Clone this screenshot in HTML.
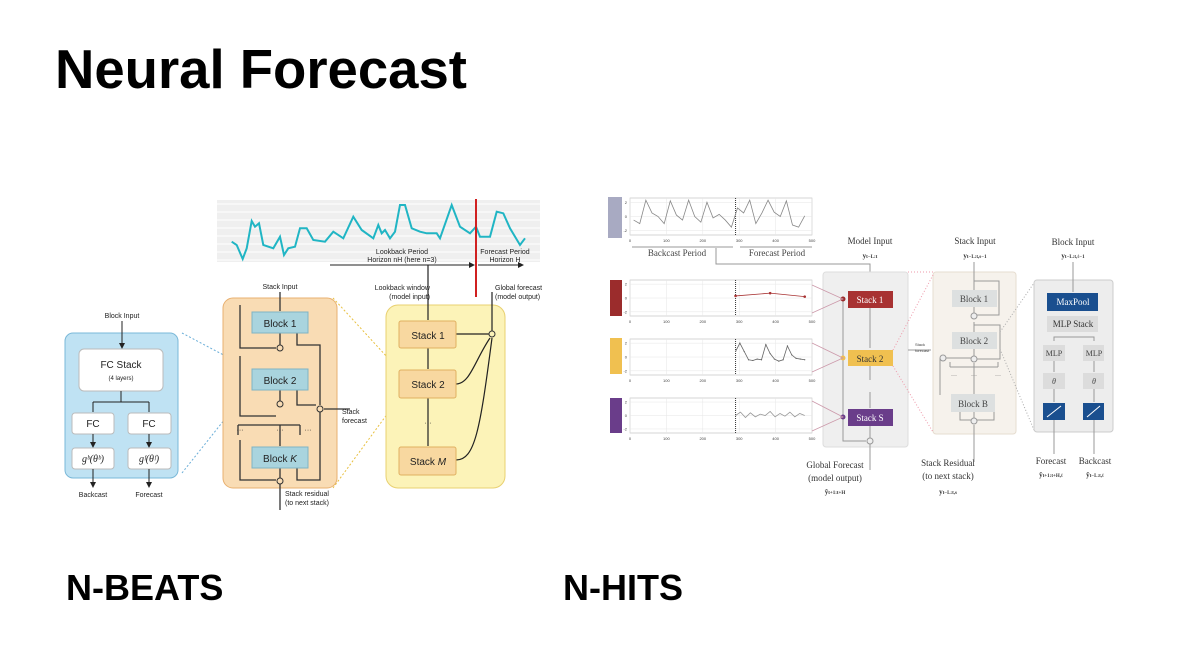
<!DOCTYPE html>
<html><head><meta charset="utf-8"><style>
html,body{margin:0;padding:0;background:#fff;}
svg{display:block;font-family:"Liberation Sans",sans-serif;}
.serif{font-family:"Liberation Serif",serif;}
</style></head><body>
<svg id="s" width="1202" height="646" viewBox="0 0 1202 646">
<defs>
<marker id="ar" markerWidth="6" markerHeight="6" refX="5" refY="3" orient="auto"><path d="M0,0 L6,3 L0,6z" fill="#222"/></marker>
</defs>
<text x="55" y="88" font-size="54.5" font-weight="bold" fill="#000">Neural Forecast</text>
<text x="66" y="600" font-size="36" font-weight="bold">N-BEATS</text>
<text x="563" y="600" font-size="36" font-weight="bold">N-HITS</text>

<!-- N-BEATS -->
<g font-size="7" fill="#222">
<rect x="217" y="200" width="323" height="62" fill="#efefef"/>
<g id="grid" stroke="#fff" stroke-width="1"></g>
<polyline id="teal" fill="none" stroke="#20b5c4" stroke-width="2"/>
<line x1="476" y1="199" x2="476" y2="297" stroke="#d02020" stroke-width="2"/>
<text x="402" y="254" text-anchor="middle">Lookback Period</text>
<text x="402" y="262" text-anchor="middle">Horizon nH (here n=3)</text>
<text x="505" y="254" text-anchor="middle">Forecast Period</text>
<text x="505" y="262" text-anchor="middle">Horizon H</text>
<line x1="330" y1="265" x2="474" y2="265" stroke="#222" marker-end="url(#ar)"/>
<line x1="478" y1="265" x2="523" y2="265" stroke="#222" marker-end="url(#ar)"/>

<rect x="65" y="333" width="113" height="145" rx="8" fill="#bfe2f3" stroke="#7ab8d8"/>
<text x="122" y="318" text-anchor="middle">Block Input</text>
<line x1="122" y1="321" x2="122" y2="348" stroke="#222" marker-end="url(#ar)"/>
<rect x="79" y="349" width="84" height="42" rx="5" fill="#fff" stroke="#bbb"/>
<text x="121" y="368" text-anchor="middle" font-size="10">FC Stack</text>
<text x="121" y="380" text-anchor="middle" font-size="6">(4 layers)</text>
<path d="M121,391 V402 M93,402 H149 M93,402 V412 M149,402 V412" stroke="#222" fill="none"/>
<rect x="72" y="413" width="42" height="21" rx="3" fill="#fff" stroke="#bbb"/>
<rect x="128" y="413" width="43" height="21" rx="3" fill="#fff" stroke="#bbb"/>
<text x="93" y="427" text-anchor="middle" font-size="10">FC</text>
<text x="149" y="427" text-anchor="middle" font-size="10">FC</text>
<line x1="93" y1="434" x2="93" y2="447" stroke="#222" marker-end="url(#ar)"/>
<line x1="149" y1="434" x2="149" y2="447" stroke="#222" marker-end="url(#ar)"/>
<rect x="72" y="448" width="42" height="21" rx="3" fill="#fff" stroke="#bbb"/>
<rect x="128" y="448" width="43" height="21" rx="3" fill="#fff" stroke="#bbb"/>
<text x="93" y="462" text-anchor="middle" font-size="10" class="serif" font-style="italic">g&#7495;(θ&#7495;)</text>
<text x="149" y="462" text-anchor="middle" font-size="10" class="serif" font-style="italic">g&#7584;(θ&#7584;)</text>
<line x1="93" y1="469" x2="93" y2="487" stroke="#222" marker-end="url(#ar)"/>
<line x1="149" y1="469" x2="149" y2="487" stroke="#222" marker-end="url(#ar)"/>
<text x="93" y="497" text-anchor="middle">Backcast</text>
<text x="149" y="497" text-anchor="middle">Forecast</text>
<line x1="182" y1="333" x2="252" y2="370" stroke="#6aaed8" stroke-dasharray="2,2"/>
<line x1="182" y1="473" x2="248" y2="390" stroke="#6aaed8" stroke-dasharray="2,2"/>

<rect x="223" y="298" width="114" height="190" rx="10" fill="#f9dcb4" stroke="#e8b070"/>
<text x="280" y="289" text-anchor="middle">Stack Input</text>
<path d="M280,292 V311 M240,305 V348 H276 M280,333 V346 M240,356 V416 H276 M280,390 V406 M238,425 H300 M238,425 V435 M300,425 V435 M280,425 V446 M240,440 V480 H276 M280,468 V510 M297,333 V345 H320 V405 M297,390 V405 H316 M297,468 V480 H320 V412 M324,409 H350" stroke="#333" fill="none" stroke-width="1.3"/>
<circle cx="280" cy="348" r="3" fill="#f9dcb4" stroke="#333"/>
<circle cx="280" cy="404" r="3" fill="#f9dcb4" stroke="#333"/>
<circle cx="320" cy="409" r="3" fill="#f9dcb4" stroke="#333"/>
<circle cx="280" cy="481" r="3" fill="#f9dcb4" stroke="#333"/>
<text x="240" y="432" text-anchor="middle">···</text><text x="280" y="432" text-anchor="middle">···</text><text x="308" y="432" text-anchor="middle">···</text>
<rect x="252" y="312" width="56" height="21" fill="#a9d4de" stroke="#7fb3c4"/>
<rect x="252" y="369" width="56" height="21" fill="#a9d4de" stroke="#7fb3c4"/>
<rect x="252" y="447" width="56" height="21" fill="#a9d4de" stroke="#7fb3c4"/>
<text x="280" y="327" text-anchor="middle" font-size="10">Block 1</text>
<text x="280" y="384" text-anchor="middle" font-size="10">Block 2</text>
<text x="280" y="462" text-anchor="middle" font-size="10">Block <tspan font-style="italic">K</tspan></text>
<text x="342" y="414">Stack</text><text x="342" y="423">forecast</text>
<text x="285" y="496">Stack residual</text><text x="285" y="505">(to next stack)</text>
<line x1="333" y1="298" x2="399" y2="370" stroke="#e8c040" stroke-dasharray="2,2"/>
<line x1="333" y1="488" x2="399" y2="398" stroke="#e8c040" stroke-dasharray="2,2"/>

<rect x="386" y="305" width="119" height="183" rx="12" fill="#fcf3b8" stroke="#e8d070"/>
<text x="430" y="290" text-anchor="end">Lookback window</text><text x="430" y="299" text-anchor="end">(model input)</text>
<text x="495" y="290">Global forecast</text><text x="495" y="299">(model output)</text>
<path d="M428,265 V320 M428,348 V369 M428,398 V446 M456,334 H489 M456,384 C470,384 475,360 490,338 M456,460 C475,460 480,430 492,338 M492,331 V292" stroke="#222" fill="none" stroke-width="1.2"/>
<text x="428" y="425" text-anchor="middle">···</text>
<circle cx="492" cy="334" r="3" fill="#fcf3b8" stroke="#333"/>
<rect x="399" y="321" width="57" height="27" rx="2" fill="#f8d8a0" stroke="#e0b060"/>
<rect x="399" y="370" width="57" height="28" rx="2" fill="#f8d8a0" stroke="#e0b060"/>
<rect x="399" y="447" width="57" height="28" rx="2" fill="#f8d8a0" stroke="#e0b060"/>
<text x="428" y="339" text-anchor="middle" font-size="10">Stack 1</text>
<text x="428" y="388" text-anchor="middle" font-size="10">Stack 2</text>
<text x="428" y="465" text-anchor="middle" font-size="10">Stack <tspan font-style="italic">M</tspan></text>
</g>

<!-- N-HITS -->
<g font-size="6" fill="#444">
<rect x="608" y="197" width="14" height="41" fill="#a8aac2"/>
<rect x="610" y="280" width="12" height="36" fill="#9b2c2c"/>
<rect x="610" y="338" width="12" height="36" fill="#f0c050"/>
<rect x="610" y="398" width="12" height="35" fill="#6a3d8a"/>
<g id="plots"></g>
<text x="677" y="256" text-anchor="middle" font-size="9" class="serif">Backcast Period</text>
<text x="777" y="256" text-anchor="middle" font-size="9" class="serif">Forecast Period</text>
<path d="M632,247 H733 M740,247 H812 M716,248 V264 H870 V290" stroke="#999" fill="none"/>
<rect x="823" y="272" width="85" height="175" rx="3" fill="#efefef" stroke="#ddd"/>
<path d="M870,308 V348 M870,366 V380 M870,392 V408 M870,426 V440 M843,299 V441 H866 M870,444 V470 M908,350 H931" stroke="#999" fill="none"/>
<circle cx="870" cy="441" r="3" fill="#eee" stroke="#999"/>
<circle cx="843" cy="299" r="2.5" fill="#9b2c2c"/><circle cx="843" cy="358" r="2.5" fill="#f0c050"/><circle cx="843" cy="417" r="2.5" fill="#6a3d8a"/>
<path d="M812,285 L843,299 L812,313 M812,343 L843,358 L812,372 M812,401 L843,417 L812,431" stroke-width="0.8" fill="none" stroke="#c9a" />
<rect x="848" y="291" width="45" height="17" fill="#a83232"/>
<rect x="848" y="350" width="45" height="16" fill="#f0c050"/>
<rect x="848" y="409" width="45" height="17" fill="#6a3d8a"/>
<text x="870" y="303" text-anchor="middle" font-size="9" fill="#fff" class="serif">Stack 1</text>
<text x="870" y="362" text-anchor="middle" font-size="9" fill="#333" class="serif">Stack 2</text>
<text x="870" y="421" text-anchor="middle" font-size="9" fill="#fff" class="serif">Stack S</text>
<text x="915" y="346" font-size="4">Stack</text><text x="915" y="352" font-size="4">forecast</text>

<rect x="933" y="272" width="83" height="162" rx="3" fill="#f6f2ec" stroke="#e6ddd0"/>
<path d="M974,262 V290 M974,307 V315 M974,322 V332 M974,349 V356 M974,363 V394 M974,412 V418 M974,425 V462 M974,281 H999 V315 H977 M974,325 H1000 V359 H977 M940,395 V358 M943,358 H974 M950,367 V362 M998,367 V362 M950,367 H998 M960,412 V420 H971 M994,412 V420 H977" stroke="#999" fill="none"/>
<circle cx="974" cy="316" r="3" fill="#eee" stroke="#999"/><circle cx="974" cy="359" r="3" fill="#eee" stroke="#999"/><circle cx="943" cy="358" r="3" fill="#eee" stroke="#999"/><circle cx="974" cy="421" r="3" fill="#eee" stroke="#999"/>
<text x="954" y="377" text-anchor="middle">···</text><text x="974" y="377" text-anchor="middle">···</text><text x="998" y="377" text-anchor="middle">···</text>
<rect x="952" y="290" width="45" height="17" fill="#dde0e0"/>
<rect x="952" y="332" width="45" height="17" fill="#dde0e0"/>
<rect x="951" y="394" width="44" height="18" fill="#dde0e0"/>
<text x="974" y="302" text-anchor="middle" font-size="9" class="serif">Block 1</text>
<text x="974" y="344" text-anchor="middle" font-size="9" class="serif">Block 2</text>
<text x="973" y="407" text-anchor="middle" font-size="9" class="serif">Block B</text>
<line x1="908" y1="272" x2="933" y2="272" stroke="#e9a" stroke-dasharray="1,2"/>
<line x1="893" y1="350" x2="933" y2="275" stroke="#e9a" stroke-dasharray="1,2"/>
<line x1="893" y1="366" x2="933" y2="432" stroke="#e9a" stroke-dasharray="1,2"/>
<line x1="1000" y1="332" x2="1034" y2="283" stroke="#aaa" stroke-dasharray="1,2"/>
<line x1="1000" y1="349" x2="1034" y2="430" stroke="#aaa" stroke-dasharray="1,2"/>

<rect x="1034" y="280" width="79" height="152" rx="3" fill="#ededed" stroke="#ccc"/>
<path d="M1073,262 V292 M1054,341 V337 H1094 V341 M1054,361 V372 M1094,361 V372 M1054,389 V402 M1094,389 V402 M1054,420 V454 M1094,420 V454" stroke="#999" fill="none"/>
<rect x="1047" y="293" width="51" height="18" fill="#1a4f8f"/>
<rect x="1047" y="316" width="51" height="16" fill="#dcdcdc"/>
<text x="1073" y="305" text-anchor="middle" font-size="9" fill="#fff" class="serif">MaxPool</text>
<text x="1073" y="327" text-anchor="middle" font-size="9" class="serif" fill="#333">MLP Stack</text>
<rect x="1043" y="345" width="22" height="16" fill="#dcdcdc"/><rect x="1083" y="345" width="21" height="16" fill="#dcdcdc"/>
<text x="1054" y="356" text-anchor="middle" font-size="8" class="serif">MLP</text><text x="1094" y="356" text-anchor="middle" font-size="8" class="serif">MLP</text>
<rect x="1043" y="373" width="22" height="16" fill="#dcdcdc"/><rect x="1083" y="373" width="21" height="16" fill="#dcdcdc"/>
<text x="1054" y="384" text-anchor="middle" font-size="8" class="serif" font-style="italic">θ</text><text x="1094" y="384" text-anchor="middle" font-size="8" class="serif" font-style="italic">θ</text>
<rect x="1043" y="403" width="22" height="17" fill="#1a4f8f"/><rect x="1083" y="403" width="21" height="17" fill="#1a4f8f"/>
<path d="M1047,417 L1061,406 M1087,417 L1100,406" stroke="#fff"/>
</g>
<g font-size="9" class="serif" fill="#333" text-anchor="middle">
<text x="870" y="244">Model Input</text><text x="870" y="258" font-weight="bold" font-size="7">y<tspan font-size="5">t−L:t</tspan></text>
<text x="975" y="244">Stack Input</text><text x="975" y="258" font-weight="bold" font-size="7">y<tspan font-size="5">t−L:t,s−1</tspan></text>
<text x="1073" y="245">Block Input</text><text x="1073" y="258" font-weight="bold" font-size="7">y<tspan font-size="5">t−L:t,ℓ−1</tspan></text>
<text x="835" y="468">Global Forecast</text><text x="835" y="481">(model output)</text><text x="835" y="494" font-weight="bold" font-size="7">ŷ<tspan font-size="5">t+1:t+H</tspan></text>
<text x="948" y="466">Stack Residual</text><text x="948" y="479">(to next stack)</text><text x="948" y="494" font-weight="bold" font-size="7">y<tspan font-size="5">t−L:t,s</tspan></text>
<text x="1051" y="464">Forecast</text><text x="1051" y="477" font-weight="bold" font-size="7">ŷ<tspan font-size="5">t+1:t+H,ℓ</tspan></text>
<text x="1095" y="464">Backcast</text><text x="1095" y="477" font-weight="bold" font-size="7">ŷ<tspan font-size="5">t−L:t,ℓ</tspan></text>
</g>
</svg>
<script>
const tealY = [140,150,192,160,78,95,85,150,160,125,180,160,155,100,100,135,140,110,130,65,105,130,90,115,105,130,110,30,30,100,110,115,115,130,30,95,115,95,125,125,50,55,100,150,130];
const tealX = [515,530,548,560,575,585,597,610,640,660,672,685,705,720,740,760,795,820,850,880,905,940,955,965,975,990,1005,1020,1035,1055,1080,1100,1130,1140,1175,1200,1230,1248,1260,1290,1310,1330,1350,1380,1395];
const yVals = [-0.5,-1,2.3,0.5,0,-1,2.2,0.2,-0.5,2.3,0,-0.8,2,-0.2,0.3,-0.5,-1.5,1.2,0.5,2.3,-1,0.5,2.3,0.6,0,2.2,-1.2,-1.5,0.1];
const r1Vals = [0.3,0.7,0.2];
const r2Vals = [0.8,2,0.8,-0.4,-0.5,-0.3,-0.4,1.8,0.5,-0.3,-0.6,-0.4,1.6,0.3,-0.2,-0.3,-0.4];
const r3Vals = [0,0.5,-0.3,0.4,-0.2,0.2,0,0.6,-0.2,0.3,-0.1,0.5,-0.2,0.3,0];
const xTicks = ['0','100','200','300','400','500'];
const NS='http://www.w3.org/2000/svg';
const teal=document.getElementById('teal');
teal.setAttribute('points', tealX.map((x,i)=>(60+x/3).toFixed(1)+','+(195+tealY[i]/3).toFixed(1)).join(' '));
const grid=document.getElementById('grid');
for(let i=0;i<8;i++){const l=document.createElementNS(NS,'line');l.setAttribute('x1',217);l.setAttribute('x2',540);l.setAttribute('y1',204+i*8);l.setAttribute('y2',204+i*8);grid.appendChild(l);}
const plots=document.getElementById('plots');
function mk(tag,attrs,parent){const e=document.createElementNS(NS,tag);for(const k in attrs)e.setAttribute(k,attrs[k]);parent.appendChild(e);return e;}
function plot(y0,h,vals,x0,x1,color,dots,name){
  const g=mk('g',{},plots);
  
  
  const px=v=>630+v/500*182, py=v=>y0+h/2 - v/2.6*(h/2);
  mk('rect',{x:630,y:y0,width:182,height:h,fill:'#fff',stroke:'#bbb','stroke-width':0.6},g);
  xTicks.forEach(t=>{const x=px(+t);mk('line',{x1:x,x2:x,y1:y0,y2:y0+h,stroke:'#e6e6e6','stroke-width':0.5},g);const tx=mk('text',{x:x,y:y0+h+7,'text-anchor':'middle','font-size':4},g);tx.textContent=t;});
  [-2,0,2].forEach(v=>{mk('line',{x1:630,x2:812,y1:py(v),y2:py(v),stroke:'#e6e6e6','stroke-width':0.5},g);const tx=mk('text',{x:627,y:py(v)+1.5,'text-anchor':'end','font-size':4},g);tx.textContent=v;});
  mk('line',{x1:px(290),x2:px(290),y1:y0,y2:y0+h,stroke:'#333','stroke-dasharray':'1,1'},g);
  const pts=vals.map((v,i)=>[px(x0+(x1-x0)*i/(vals.length-1)),py(v)]);
  mk('polyline',{points:pts.map(p=>p.join(',')).join(' '),fill:'none',stroke:color,'stroke-width':0.8},g);
  if(dots)pts.forEach(p=>mk('circle',{cx:p[0],cy:p[1],r:dots,fill:color},g));
}
plot(198,37,yVals,10,480,'#888',0,'y-series-plot');
plot(280,36,r1Vals,290,480,'#a83232',1.3,'r1-plot');
plot(339,36,r2Vals,290,480,'#666',0.6,'r2-plot');
plot(398,35,r3Vals,290,480,'#999',0,'r3-plot');
</script>
</body></html>
